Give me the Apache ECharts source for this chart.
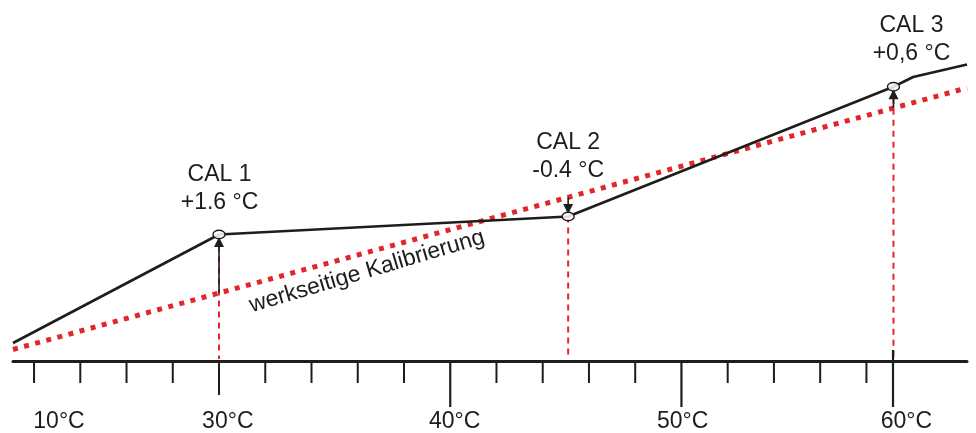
<!DOCTYPE html>
<html><head><meta charset="utf-8">
<script src="https://cdn.jsdelivr.net/npm/echarts@6/dist/echarts.min.js"></script>
<style>html,body{margin:0;padding:0;background:#fff}#c{width:976px;height:433px}</style>
</head><body><div id="c"></div>
<script>
// x: temperature scale of the sketch (°C); y: displayed reading (°C)
const axisRange = [21.09, 62.35];
const readingRange = [19.28, 76.22];
const minorTicks = [22, 24, 26, 28, 32, 34, 36, 38, 42, 44, 46, 48, 52, 54, 56, 58];
const midTicks = [30];
const majorTicks = [40, 50, 59.15];
const raisedTicks = [59.15];
const tickLabels = ['10°C', '30°C', '40°C', '50°C', '60°C'];
const tickLabelAt = [23.08, 30.38, 40.19, 50.05, 59.73];
const factoryX = [21.09, 62.35];
const factoryY = [21.09, 62.35];
const userX = [21.09, 30, 45.1, 59.17, 60.02, 62.35];
const userY = [22.12, 39.23, 42.07, 62.54, 64.07, 66.05];
const calNames = ['CAL 1', 'CAL 2', 'CAL 3'];
const calOffsets = ['+1.6 °C', '-0.4 °C', '+0,6 °C'];
const calX = [30, 45.1, 59.17];
const calY = [39.23, 42.07, 62.54];
const factoryLabel = 'werkseitige Kalibrierung';

const INK = '#1d1d1b';
const RED = '#e3262b';
const FONT = 'Arial, "Liberation Sans", sans-serif';

function factoryAt(x) {
  const t = (x - factoryX[0]) / (factoryX[1] - factoryX[0]);
  return factoryY[0] + t * (factoryY[1] - factoryY[0]);
}

function tickSeries(list, up, down, width) {
  return {
    type: 'custom', coordinateSystem: 'cartesian2d', clip: false, silent: true, z: 5,
    data: list.map(t => [t, readingRange[0]]),
    renderItem(params, api) {
      const p = api.coord([api.value(0), api.value(1)]);
      return { type: 'line', shape: { x1: p[0], y1: p[1] - up, x2: p[0], y2: p[1] + down },
               style: { stroke: INK, lineWidth: width } };
    }
  };
}

const chart = echarts.init(document.getElementById('c'), null, { renderer: 'canvas' });
const calLabelShift = [[0.5, -45.5], [0, -59.5], [18, -47.4]];

chart.setOption({
  animation: false,
  backgroundColor: '#fff',
  grid: { left: 13, right: 9, top: 0, bottom: 72 },
  xAxis: {
    type: 'value', min: axisRange[0], max: axisRange[1],
    axisLine: { onZero: false, lineStyle: { color: INK, width: 3 } },
    axisTick: { show: false }, axisLabel: { show: false }, splitLine: { show: false }
  },
  yAxis: { type: 'value', min: readingRange[0], max: readingRange[1], show: false, splitLine: { show: false } },
  series: [
    tickSeries(minorTicks, 0, 22, 2),
    tickSeries(midTicks, 0, 34, 2),
    tickSeries(majorTicks, 0, 46, 2.2),
    tickSeries(raisedTicks, 11, 0, 2.2),
    { // tick labels
      type: 'custom', coordinateSystem: 'cartesian2d', clip: false, silent: true,
      data: tickLabelAt.map((t, i) => [t, readingRange[0], i]),
      renderItem(params, api) {
        const p = api.coord([api.value(0), api.value(1)]);
        return { type: 'text', x: p[0], y: p[1] + 61,
          style: { text: tickLabels[api.value(2)], fill: INK, font: '23px ' + FONT, align: 'center', verticalAlign: 'middle' } };
      }
    },
    { // factory calibration (dotted red)
      type: 'line', silent: true, showSymbol: false, z: 2,
      data: factoryX.map((x, i) => [x, factoryY[i]]),
      lineStyle: { color: RED, width: 5, type: [5, 6.5], cap: 'butt' }
    },
    { // red dashed drops from CAL points
      type: 'custom', coordinateSystem: 'cartesian2d', clip: false, silent: true, z: 3,
      data: calX.map((x, i) => [x, calY[i]]),
      renderItem(params, api) {
        const p = api.coord([api.value(0), api.value(1)]);
        const b = api.coord([api.value(0), readingRange[0]]);
        return { type: 'line', shape: { x1: p[0], y1: p[1], x2: b[0], y2: b[1] - 2 },
                 style: { stroke: RED, lineWidth: 2, lineDash: [6, 5] } };
      }
    },
    { // user calibration line
      type: 'line', silent: true, showSymbol: false, z: 4,
      data: userX.map((x, i) => [x, userY[i]]),
      lineStyle: { color: INK, width: 2.6 }
    },
    { // arrows from factory line to CAL point
      type: 'custom', coordinateSystem: 'cartesian2d', clip: false, silent: true, z: 6,
      data: calX.map((x, i) => [x, factoryAt(x), calY[i]]),
      renderItem(params, api) {
        const x = api.value(0);
        const p0 = api.coord([x, api.value(1)]);
        const p1 = api.coord([x, api.value(2)]);
        const dir = p1[1] < p0[1] ? -1 : 1;
        const tipY = p1[1] - dir * 2.5;
        const baseY = tipY - dir * 10;
        return { type: 'group', children: [
          { type: 'line', shape: { x1: p0[0], y1: p0[1], x2: p0[0], y2: baseY }, style: { stroke: INK, lineWidth: 1.6 } },
          { type: 'polygon', shape: { points: [[p1[0], tipY], [p1[0] - 5, baseY], [p1[0] + 5, baseY]] }, style: { fill: INK } }
        ] };
      }
    },
    { // CAL markers and labels
      type: 'custom', coordinateSystem: 'cartesian2d', clip: false, silent: true, z: 7,
      data: calX.map((x, i) => [x, calY[i], i]),
      renderItem(params, api) {
        const i = api.value(2);
        const p = api.coord([api.value(0), api.value(1)]);
        const s = calLabelShift[i];
        return { type: 'group', children: [
          { type: 'ellipse', shape: { cx: p[0], cy: p[1], rx: 6, ry: 4.2 }, style: { fill: 'rgba(255,255,255,0.85)', stroke: INK, lineWidth: 1.4 } },
          { type: 'text', x: p[0] + s[0], y: p[1] + s[1],
            style: { text: calNames[i] + '\n' + calOffsets[i], fill: INK, font: '23px ' + FONT, lineHeight: 28,
                     align: 'center', verticalAlign: 'middle' } }
        ] };
      }
    },
    { // label along the factory line
      type: 'custom', coordinateSystem: 'cartesian2d', clip: false, silent: true, z: 7,
      data: [[36.4, 33.4]],
      renderItem(params, api) {
        const p = api.coord([api.value(0), api.value(1)]);
        return { type: 'text', x: p[0], y: p[1], rotation: 16.5 * Math.PI / 180,
          style: { text: factoryLabel, fill: INK, font: '23px ' + FONT, align: 'center', verticalAlign: 'middle' } };
      }
    }
  ]
});
</script></body></html>
